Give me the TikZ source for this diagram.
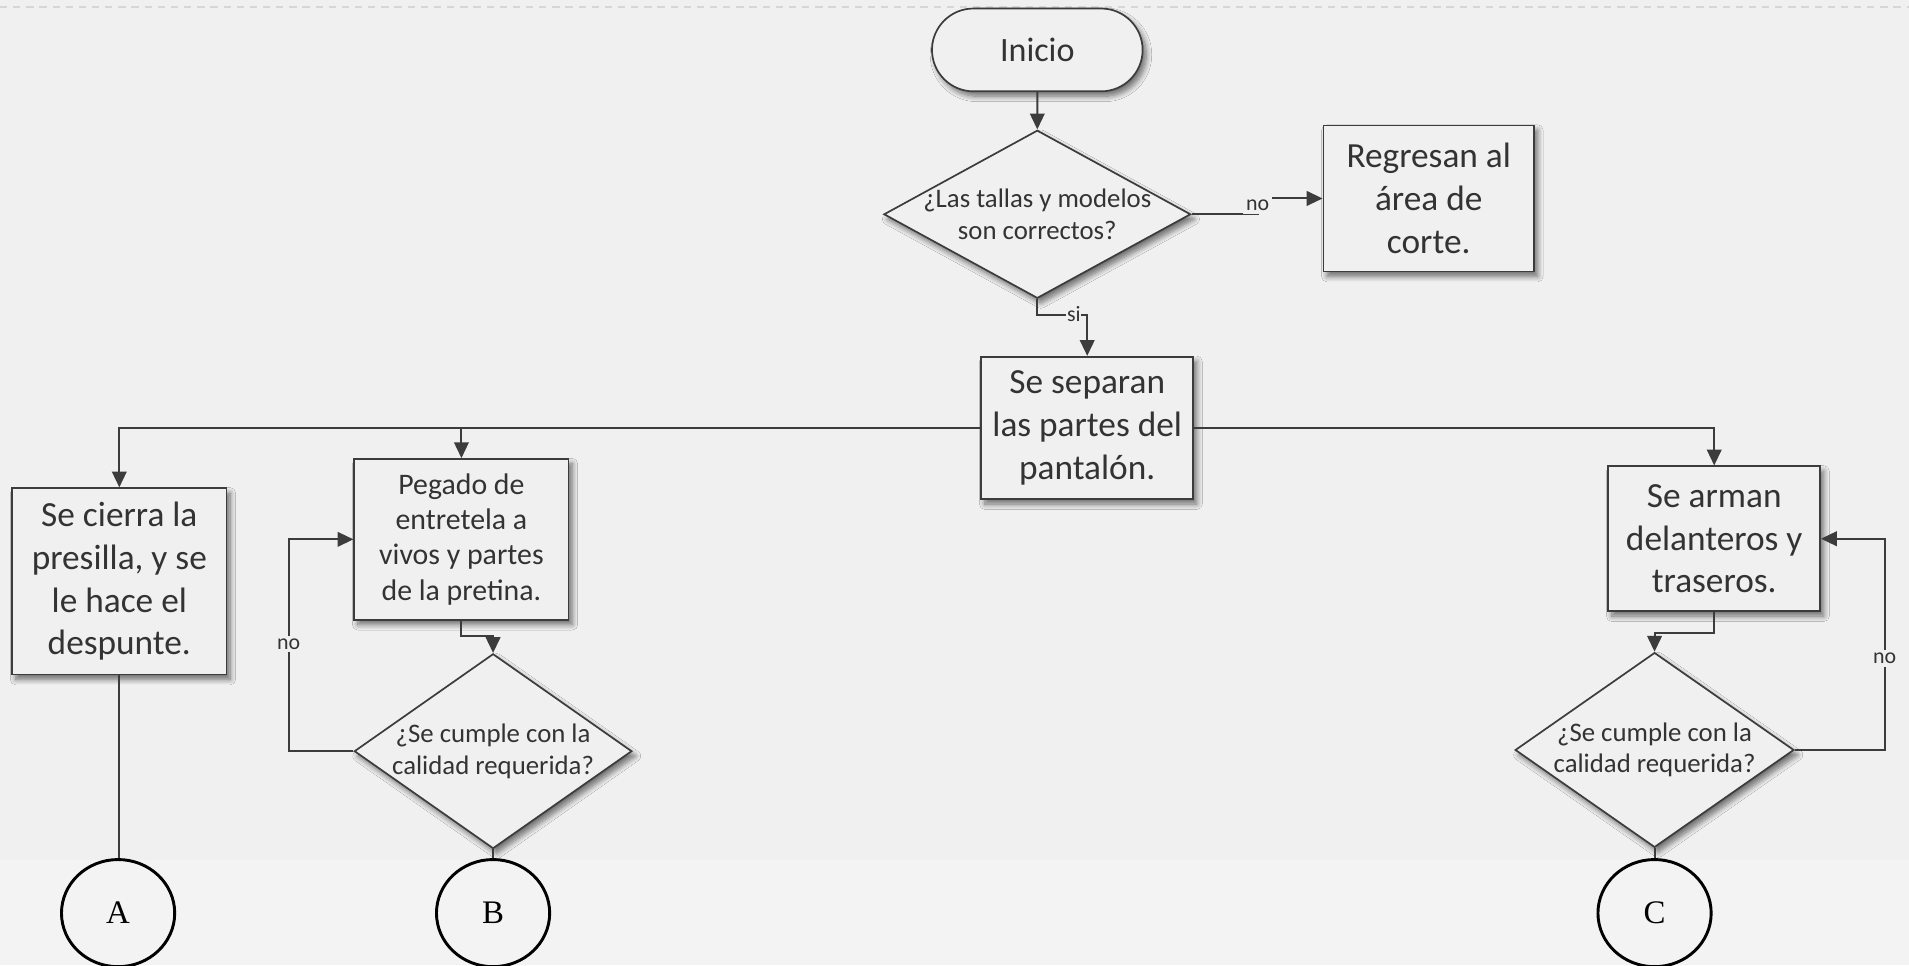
\documentclass[tikz,border=0pt]{standalone}
\usepackage{fontspec}
\setmainfont{Carlito}
\newfontfamily\letterfont{Liberation Serif}
\usetikzlibrary{shapes.geometric,shapes.misc,arrows.meta,shadows.blur}
\definecolor{bgcol}{HTML}{F0F0F0}
\definecolor{bandcol}{HTML}{F3F3F3}
\definecolor{linecol}{HTML}{3C3C3C}
\definecolor{txtcol}{HTML}{333333}
\definecolor{dashcol}{HTML}{D6D6D6}
\tikzset{
  conn/.style={draw=linecol, line width=1.6pt},
  arr/.style={conn, -{Triangle[length=13pt,width=12pt]}},
  softshadow/.style={blur shadow={shadow xshift=3pt, shadow yshift=-4pt,
      shadow blur steps=8, shadow blur radius=4.5pt, shadow opacity=55}},
  proc/.style={rectangle, draw=linecol, line width=1.4pt, fill=bgcol,
      softshadow, align=center, inner sep=0pt, text=txtcol,
      font=\fontsize{29}{35}\selectfont},
  term/.style={rounded rectangle, draw=linecol, line width=1.4pt, fill=bgcol,
      softshadow, inner sep=0pt, text=txtcol,
      minimum width=173pt, minimum height=68pt,
      font=\fontsize{28}{34}\selectfont},
  decision/.style={diamond, draw=linecol, line width=1.4pt, fill=bgcol,
      softshadow, inner sep=0pt},
  dtext/.style={align=center, inner sep=0pt, text=txtcol,
      font=\fontsize{22}{26}\selectfont},
  onpage/.style={ellipse, draw=black, line width=2.4pt,
      minimum width=93pt, minimum height=88pt,
      inner sep=0pt, font=\letterfont\fontsize{27}{30}\selectfont},
  lbl/.style={fill=bgcol, inner sep=2.5pt, text=txtcol,
      font=\fontsize{18}{20}\selectfont},
}
\begin{document}
\begin{tikzpicture}[x=1pt, y=-1pt]
  % page
  \clip (0,0) rectangle (1568,793);
  \fill[bgcol] (0,0) rectangle (1568,793);
  \fill[bandcol] (0,706) rectangle (1568,793);
  \draw[dashcol, line width=1.8pt, dash pattern=on 6pt off 4.8pt] (0,6) -- (1568,6);

  % start and first check
  \node[term] (ini) at (852,41) {Inicio};
  \node[decision, minimum width=252pt, minimum height=138pt] (d1) at (852,176) {};
  \node[dtext] (d1t) at (d1) {¿Las tallas y modelos\\son correctos?};
  \node[proc, minimum width=173pt, minimum height=120pt] (reg) at (1173.5,163)
       {Regresan al\\área de\\corte.};
  \node[proc, minimum width=174pt, minimum height=117pt] (sep) at (893,351.5)
       {Se separan\\las partes del\\pantalón.};

  % three branches
  \node[proc, minimum width=176pt, minimum height=153pt] (pA) at (98,477.5)
       {Se cierra la\\presilla, y se\\le hace el\\despunte.};
  \node[proc, minimum width=176pt, minimum height=132pt,
        font=\fontsize{24.5}{29}\selectfont] (pB) at (379,443)
       {Pegado de\\entretela a\\vivos y partes\\de la pretina.};
  \node[proc, minimum width=174pt, minimum height=119pt] (pC) at (1408,442.5)
       {Se arman\\delanteros y\\traseros.};

  \node[decision, minimum width=228pt, minimum height=160pt] (dB) at (405,617) {};
  \node[dtext] (dBt) at (dB) {¿Se cumple con la\\calidad requerida?};
  \node[decision, minimum width=229pt, minimum height=160pt] (dC) at (1359,616) {};
  \node[dtext] (dCt) at (dC) {¿Se cumple con la\\calidad requerida?};

  % off-page connectors
  \node[onpage] (cA) at (97,750) {A};
  \node[onpage] (cB) at (405,750) {B};
  \node[onpage] (cC) at (1359,750) {C};

  % connectors
  \draw[arr] (ini) -- (d1);
  \draw[arr] (d1.east) -- (1033,176) |- (reg.west);
  \node[lbl] (lno1) at (1033,169) {no};
  \draw[arr] (d1.south) -- ++(0,13) -| (sep.north);
  \node[lbl, inner sep=0.5pt] (lsi) at (882,258) {si};

  \draw[arr] (sep.west) -| (pA.north);
  \draw[arr] (pB.north |- sep.west) -- (pB.north);
  \draw[arr] (sep.east) -| (pC.north);

  \draw[conn] (pA.south) -- (pA.south |- cA.north);

  \draw[arr] (pB.south) -- ++(0,13) -| (dB.north);
  \draw[arr] (dB.west) -- (237,617) |- (pB.west);
  \node[lbl] (lnoB) at (237,529) {no};
  \draw[conn] (dB.south) -- (cB.north);

  \draw[arr] (pC.south) -- ++(0,17) -| (dC.north);
  \draw[arr] (dC.east) -- (1548,616) |- (pC.east);
  \node[lbl] (lnoC) at (1548,541) {no};
  \draw[conn] (dC.south) -- (cC.north);
\end{tikzpicture}
\end{document}
